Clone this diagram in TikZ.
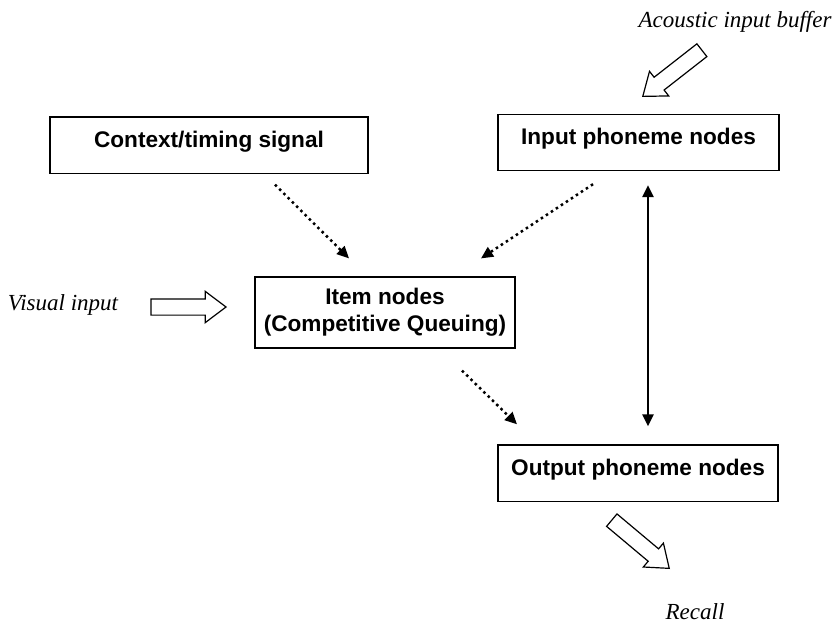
\documentclass[tikz,border=0pt]{standalone}
\usepackage{fontspec}
\setmainfont{Liberation Serif}
\setsansfont{Liberation Sans}
\usetikzlibrary{arrows.meta,shapes.arrows,positioning}

\begin{document}
\begin{tikzpicture}[x=1pt,y=-1pt,>={Triangle[length=12pt,width=11pt]},
	frame/.style={draw,line width=1.2pt,font=\sffamily\bfseries\fontsize{22.6}{27}\selectfont},
	box/.style={frame,text height=16.2pt,text depth=12pt,inner ysep=14pt,minimum width=#1},
	itembox/.style={frame,align=center,minimum width=260pt,minimum height=71pt},
	flow/.style={->,line width=2.5pt,dash pattern=on 2.5pt off 3.5pt},
	link/.style={<->,line width=2.5pt},
	hollow/.style={single arrow,draw,line width=1.2pt,text height=7.5pt,text depth=7.5pt,
		inner sep=0pt,minimum height=75pt,single arrow head extend=7.5pt,single arrow tip angle=74},
	caption/.style={font=\itshape\fontsize{23}{27}\selectfont,anchor=base,inner sep=1pt}]
	
	\useasboundingbox (0,0) rectangle (836,626);
	
	\node[box=318pt] (ctx) at (209,145) {Context/timing signal};
	\node[box=281pt] (inph) at (638.5,142.5) {Input phoneme nodes};
	\node[itembox] (item) at (385,312.5) {Item nodes\\(Competitive Queuing)};
	\node[box=280pt] (outph) at (638,473) {Output phoneme nodes};
	
	\node[caption] (acoustic) at (735,28) {Acoustic input buffer};
	\node[caption] (visual) at (63,310) {Visual input};
	\node[caption] (recall) at (695,619) {Recall};
	
	\node[hollow,rotate=218,anchor=tip] (acin) at (642,97) {};
	\node[hollow,anchor=tip] (visin) at (227,307) {};
	\node[hollow,rotate=-40,anchor=tip] (recout) at (670,569) {};
	
	\draw[flow] ([shift={(66,11)}]ctx.south) -- ([shift={(-36,-18)}]item.north);
	\draw[flow] ([shift={(-45.5,13)}]inph.south) -- ([shift={(96,-18)}]item.north);
	\draw[flow] ([shift={(77,22)}]item.south) -- ([shift={(-121,-20)}]outph.north);
	\draw[link] ([shift={(9.5,14)}]inph.south) -- ([shift={(10,-18)}]outph.north);
\end{tikzpicture}
\end{document}
